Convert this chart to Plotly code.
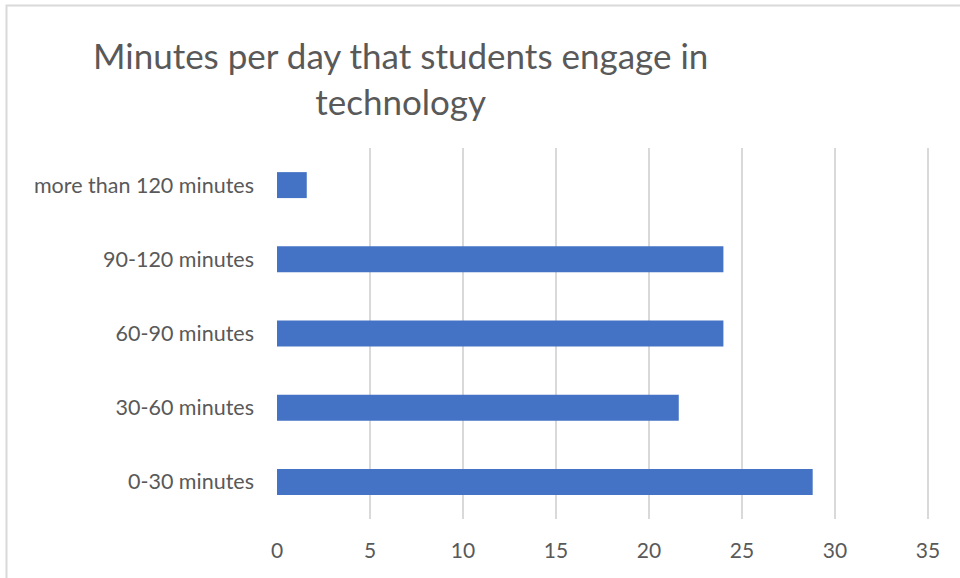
import plotly.graph_objects as go

categories = ["0-30 minutes", "30-60 minutes", "60-90 minutes", "90-120 minutes", "more than 120 minutes"]
values = [28.8, 21.6, 24, 24, 1.6]
x_ticks = [0, 5, 10, 15, 20, 25, 30, 35]

FONT = "Lato"
TEXT = "#595959"
GRID = "#d9d9d9"

W, H = 960, 578
L, R, T, B = 277, 28, 148, 59
pw, ph = W - L - R, H - T - B
x_max = 35 * pw / 651  # keeps 35 at 651 px from the left edge, with room for its gridline

def px_x(p):
    return (p - L) / pw

def px_y(p):
    return (H - B - p) / ph

fig = go.Figure(go.Bar(
    x=values, y=categories, orientation="h",
    marker=dict(color="#4472C4", line=dict(width=0)),
))

fig.update_layout(
    width=W, height=H,
    margin=dict(l=L, r=R, t=T, b=B),
    paper_bgcolor="white", plot_bgcolor="white",
    bargap=0.65,
    showlegend=False,
    font=dict(family=FONT, color=TEXT),
    xaxis=dict(
        range=[0, x_max], tickvals=x_ticks, showgrid=True, gridcolor=GRID, gridwidth=2,
        zeroline=False, showline=False, ticks="", ticklabelstandoff=17,
        tickfont=dict(family=FONT, size=21, color=TEXT), fixedrange=True,
    ),
    yaxis=dict(
        categoryorder="array", categoryarray=categories,
        showgrid=False, zeroline=False, showline=False, ticks="",
        ticklabelstandoff=22,
        tickfont=dict(family=FONT, size=21.5, color=TEXT), fixedrange=True,
    ),
    annotations=[dict(
        text="Minutes per day that students engage in<br>technology",
        xref="paper", yref="paper", x=px_x(400), y=px_y(78),
        xanchor="center", yanchor="middle", showarrow=False,
        font=dict(family=FONT, size=35, color=TEXT),
    )],
    shapes=[dict(
        type="rect", xref="paper", yref="paper",
        x0=px_x(6.5), x1=px_x(W + 10), y0=px_y(H + 10), y1=px_y(5.5),
        line=dict(color=GRID, width=2), fillcolor="rgba(0,0,0,0)", layer="below",
    )],
)

fig.write_html("out.html")
